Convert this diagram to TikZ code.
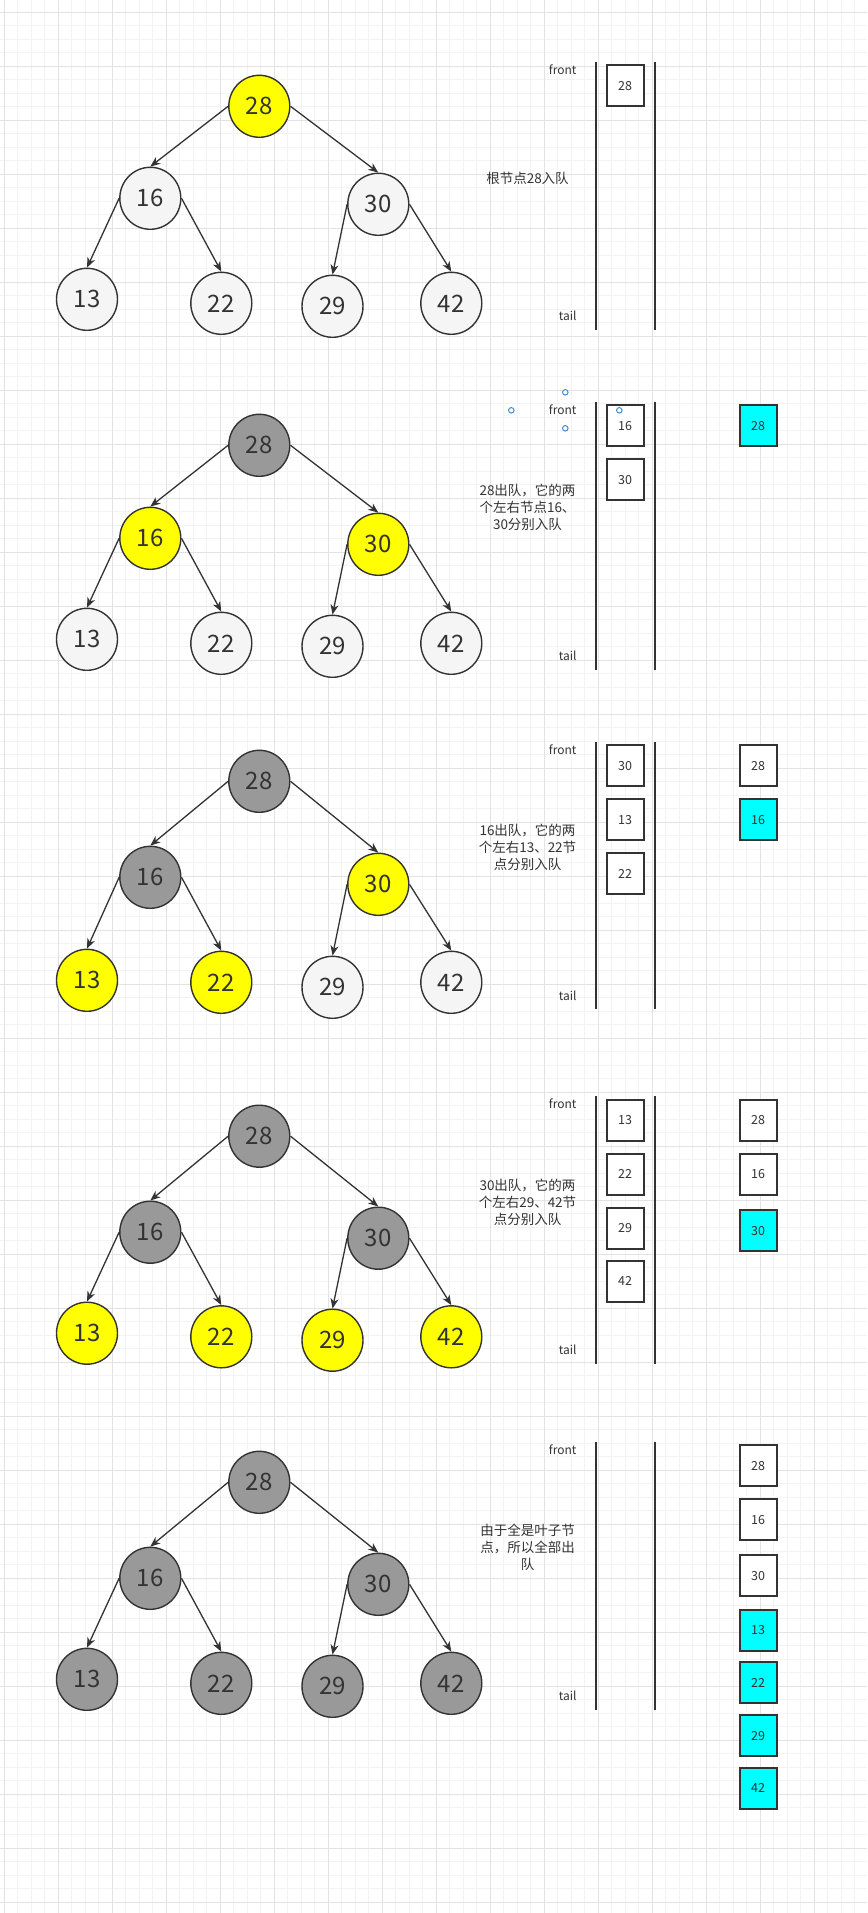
\documentclass[tikz,border=0pt]{standalone}
\usepackage{fontspec}
\setmainfont{Noto Sans CJK SC}
\usetikzlibrary{shapes.geometric,arrows.meta}
\definecolor{strokec}{HTML}{333333}
\definecolor{textc}{HTML}{333333}
\definecolor{lightc}{HTML}{F5F5F5}
\definecolor{grayc}{HTML}{999999}
\definecolor{yelc}{HTML}{FFFF00}
\definecolor{cyanc}{HTML}{00FFFF}
\definecolor{gmin}{HTML}{F3F3F3}
\definecolor{gmaj}{HTML}{E3E3E3}
\definecolor{handlec}{HTML}{3D8BD6}
\tikzset{
  tn/.style={ellipse, draw=strokec, line width=1.4pt, minimum width=61pt, minimum height=62pt, inner sep=0pt, font=\fontsize{24}{24}\selectfont, text=textc},
  lt/.style={tn, fill=lightc},
  yl/.style={tn, fill=yelc},
  gr/.style={tn, fill=grayc},
  qb/.style={rectangle, draw=strokec, line width=2pt, minimum width=37pt, minimum height=41pt, inner sep=0pt, font=\fontsize{12.5}{12.5}\selectfont, text=textc, fill=white},
  qc/.style={qb, fill=cyanc},
  qline/.style={line width=2.2pt, draw=strokec},
  edge/.style={-{Stealth[length=10pt,width=8pt,inset=3pt]}, line width=1.3pt, draw=strokec},
  lbl/.style={font=\fontsize{13.5}{17}\selectfont, text=textc, align=center},
  ftxt/.style={font=\fontsize{12}{12}\selectfont, text=textc, anchor=east},
  minorgrid/.style={draw=gmin, line width=0.8pt},
  majorgrid/.style={draw=gmaj, line width=1pt},
  handle/.style={circle, draw=handlec, line width=1pt, fill=white, minimum size=5.5pt, inner sep=0pt}
}
% #1 id, #2 root y, #3..#9 styles of 28,16,30,13,22,29,42
\newcommand\mytree[9]{%
  \node[#3] (#1r) at (259.3,#2) {28};
  \node[#4] (#1a) at (150.3,#2+\oA) {16};
  \node[#5] (#1b) at (378.3,#2+\oB) {30};
  \node[#6] (#1c) at (87,#2+\oC) {13};
  \node[#7] (#1d) at (221.3,#2+\oD) {22};
  \node[#8] (#1e) at (332.5,#2+\oE) {29};
  \node[#9] (#1f) at (451.3,#2+\oF) {42};
  \draw[edge] (#1r.west) -- (#1a.north);
  \draw[edge] (#1r.east) -- (#1b.north);
  \draw[edge] (#1a.west) -- (#1c.north);
  \draw[edge] (#1a.east) -- (#1d.north);
  \draw[edge] (#1b.west) -- (#1e.north);
  \draw[edge] (#1b.east) -- (#1f.north);
}
% #1 id, #2 top, #3 bottom, #4 front y, #5 tail y
\newcommand\myqueue[5]{%
  \coordinate (#1lt) at (596,#2);
  \coordinate (#1lb) at (596,#3);
  \coordinate (#1rt) at (655,#2);
  \coordinate (#1rb) at (655,#3);
  \draw[qline] (#1lt) -- (#1lb);
  \draw[qline] (#1rt) -- (#1rb);
  \node[ftxt] (#1front) at (580,#4) {front};
  \node[ftxt] (#1tail) at (580,#5) {tail};
}
\begin{document}
\begin{tikzpicture}[x=1pt,y=-1pt]
\useasboundingbox (0,0) rectangle (867,1913);
\fill[white] (0,0) rectangle (867,1913);
% grid
\foreach \k in {0,...,63} {\draw[minorgrid] ({4.3+13.5*\k},0) -- ({4.3+13.5*\k},1913);}
\foreach \k in {0,...,140} {\draw[minorgrid] (0,{12.3+13.5*\k}) -- (867,{12.3+13.5*\k});}
\foreach \k in {0,...,15} {\draw[majorgrid] ({4.3+54*\k},0) -- ({4.3+54*\k},1913);}
\foreach \k in {0,...,35} {\draw[majorgrid] (0,{12.3+54*\k}) -- (867,{12.3+54*\k});}

% ---------- panel 1
\def\oA{92}\def\oB{98}\def\oC{193}\def\oD{197}\def\oE{200}\def\oF{197}
\mytree{pa}{106.3}{yl}{lt}{lt}{lt}{lt}{lt}{lt}
\myqueue{qa}{62}{330}{70}{316}
\node[qb] (qa1) at (625,85.7) {28};
\node[lbl] (ta) at (527.5,178) {根节点28入队};

% ---------- panel 2
\def\oA{93}\def\oB{99}\def\oC{194}\def\oD{198}\def\oE{201}\def\oF{198}
\mytree{pb}{445.3}{gr}{yl}{yl}{lt}{lt}{lt}{lt}
\myqueue{qb}{402.3}{670}{410}{655.7}
\node[qb] (qb1) at (625,425.7) {16};
\node[qb] (qb2) at (625,479.8) {30};
\node[qc] (ob1) at (758,425.7) {28};
\node[lbl] (tb) at (527.5,507.3) {28出队，它的两\\个左右节点16、\\30分别入队};
\node[handle] (hb1) at (565.3,392.3) {};
\node[handle] (hb2) at (511.3,410.3) {};
\node[handle] (hb3) at (565.3,428.3) {};
\node[handle] (hb4) at (619.3,410.3) {};

% ---------- panel 3
\def\oA{96}\def\oB{103}\def\oC{199}\def\oD{201}\def\oE{206}\def\oF{201}
\mytree{pc}{781.3}{gr}{gr}{yl}{yl}{yl}{lt}{lt}
\myqueue{qc}{742.3}{1009.3}{749.3}{995.3}
\node[qb] (qc1) at (625,765.7) {30};
\node[qb] (qc2) at (625,819.8) {13};
\node[qb] (qc3) at (625,873.7) {22};
\node[qb] (oc1) at (758,765.7) {28};
\node[qc] (oc2) at (758,819.8) {16};
\node[lbl] (tc) at (527.5,847.3) {16出队，它的两\\个左右13、22节\\点分别入队};

% ---------- panel 4
\def\oA{96}\def\oB{102}\def\oC{197}\def\oD{200.6}\def\oE{204}\def\oF{200.6}
\mytree{pd}{1136.2}{gr}{gr}{gr}{yl}{yl}{yl}{yl}
\myqueue{qd}{1096}{1364}{1103.3}{1349.3}
\node[qb] (qd1) at (625,1120) {13};
\node[qb] (qd2) at (625,1174.3) {22};
\node[qb] (qd3) at (625,1228.3) {29};
\node[qb] (qd4) at (625,1281) {42};
\node[qb] (od1) at (758,1120) {28};
\node[qb] (od2) at (758,1174.3) {16};
\node[qc] (od3) at (758,1230.7) {30};
\node[lbl] (td) at (527.5,1202.3) {30出队，它的两\\个左右29、42节\\点分别入队};

% ---------- panel 5
\def\oA{96}\def\oB{102}\def\oC{197}\def\oD{201}\def\oE{204}\def\oF{201}
\mytree{pe}{1482.3}{gr}{gr}{gr}{gr}{gr}{gr}{gr}
\myqueue{qe}{1442.3}{1710}{1449.3}{1695.3}
\node[qb] (oe1) at (758,1465.7) {28};
\node[qb] (oe2) at (758,1519.8) {16};
\node[qb] (oe3) at (758,1575.8) {30};
\node[qc] (oe4) at (758,1630.5) {13};
\node[qc] (oe5) at (758,1682.8) {22};
\node[qc] (oe6) at (758,1735.8) {29};
\node[qc] (oe7) at (758,1788) {42};
\node[lbl] (te) at (527.5,1547.3) {由于全是叶子节\\点，所以全部出\\队};
\end{tikzpicture}
\end{document}
